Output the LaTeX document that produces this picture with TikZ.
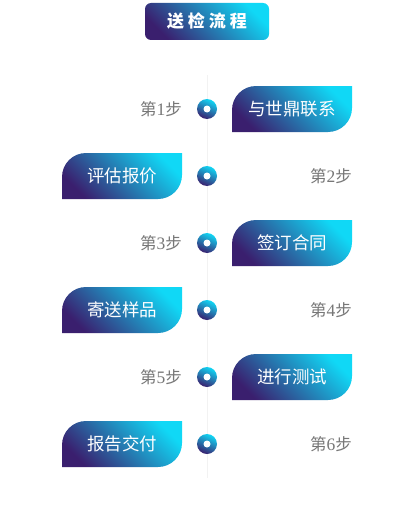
\documentclass[tikz,border=0pt]{standalone}
\usepackage{fontspec}
\newfontfamily\cjk{Noto Sans CJK SC}
\newfontfamily\digitfont{Liberation Serif}
\definecolor{pu}{HTML}{3A1F6E}
\definecolor{cy}{HTML}{10D8F6}
\definecolor{stepgray}{HTML}{777777}
\definecolor{vline}{HTML}{F2F2F2}
\tikzset{
  boxshade/.style={top color=cy, bottom color=pu, shading angle=-45},
  boxtext/.style={text=white, font=\cjk\fontsize{17.5}{20}\selectfont, inner sep=0pt},
  steplabel/.style={text=stepgray, font=\cjk\fontsize{16.5}{19}\selectfont, inner sep=0pt, anchor=east},
  dotouter/.style={circle, inner sep=0pt, minimum size=20pt, top color=cy, bottom color=pu, shading angle=-25},
  dotinner/.style={circle, inner sep=0pt, minimum size=7pt, fill=white},
}
\newcommand\flowbox[4]{% name, x0, yc, text
  \shade[boxshade] (#2+24,#3+23) -- (#2+120,#3+23) -- (#2+120,#3-23+24)
    arc[start angle=0,end angle=-90,radius=24] -- (#2,#3-23) -- (#2,#3+23-24)
    arc[start angle=180,end angle=90,radius=24] -- cycle;
  \node[boxtext] (#1) at (#2+60,#3) {#4};
}
\newcommand\stepno[1]{第{\digitfont\fontsize{17.5}{19}\selectfont #1}步}
\begin{document}
\begin{tikzpicture}[x=1pt,y=1pt]
\useasboundingbox (0,0) rectangle (414,-511);
\fill[white] (0,0) rectangle (414,-511);
% vertical line
\coordinate (ltop) at (207,-75);
\coordinate (lbot) at (207,-478);
\draw[vline, line width=1pt] (ltop) -- (lbot);
% title
\shade[boxshade, rounded corners=6pt] (145,-3) rectangle (269,-40);
\node[text=white, font=\cjk\bfseries\fontsize{17}{20}\selectfont, inner sep=0pt] (title) at (207,-21.5)
  {送\hspace{4pt}检\hspace{4pt}流\hspace{4pt}程};
% rows
\flowbox{b1}{232}{-109}{与世鼎联系}
\node[steplabel] (s1) at (182,-109) {\stepno{1}};
\flowbox{b2}{62}{-176}{评估报价}
\node[steplabel] (s2) at (352,-176) {\stepno{2}};
\flowbox{b3}{232}{-243}{签订合同}
\node[steplabel] (s3) at (182,-243) {\stepno{3}};
\flowbox{b4}{62}{-310}{寄送样品}
\node[steplabel] (s4) at (352,-310) {\stepno{4}};
\flowbox{b5}{232}{-377}{进行测试}
\node[steplabel] (s5) at (182,-377) {\stepno{5}};
\flowbox{b6}{62}{-444}{报告交付}
\node[steplabel] (s6) at (352,-444) {\stepno{6}};
% dots
\foreach \i/\y in {1/-109,2/-176,3/-243,4/-310,5/-377,6/-444}{
  \node[dotouter] (d\i) at (207,\y) {};
  \node[dotinner] (di\i) at (d\i) {};
}
\end{tikzpicture}
\end{document}
